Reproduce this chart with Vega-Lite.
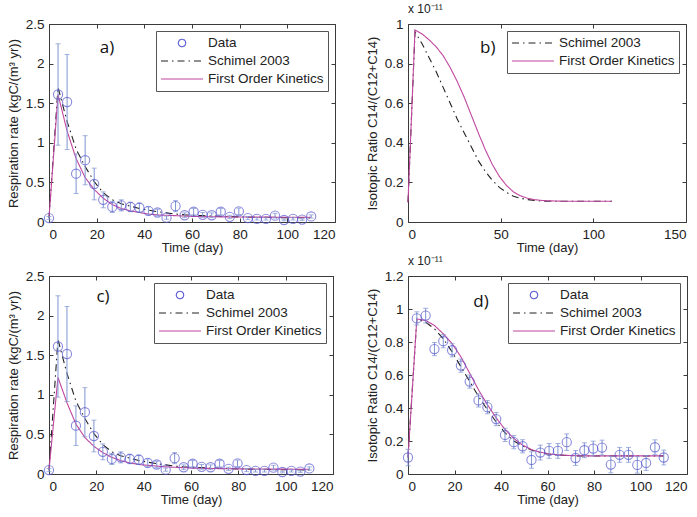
{
  "$schema": "https://vega.github.io/schema/vega-lite/v6.json",
  "padding": {"left": 6, "top": 2, "right": 2, "bottom": 2},
  "background": "white",
  "config": {
    "font": "Liberation Sans",
    "view": {"stroke": "#3a3a3a", "strokeWidth": 1},
    "axis": {
      "grid": false,
      "domain": false,
      "tickSize": -4,
      "tickColor": "#3a3a3a",
      "labelFontSize": 13.5,
      "labelColor": "#222",
      "labelPadding": 9,
      "labelOverlap": false,
      "titleFontSize": 13,
      "titleFontWeight": "normal",
      "titleColor": "#222",
      "format": "~r"
    },
    "legend": {
      "orient": "top-right",
      "offset": 7,
      "strokeColor": "#555",
      "fillColor": "white",
      "padding": 4,
      "labelFontSize": 13.5,
      "labelColor": "#222",
      "rowPadding": 2,
      "clipHeight": 16,
      "labelOffset": 4
    },
    "title": {"fontSize": 12, "fontWeight": "normal", "color": "#222", "anchor": "start", "frame": "group", "offset": 1}
  },
  "datasets": {
    "resp": [
      {"t": 0, "v": 0.05, "err": 0.02},
      {"t": 3.79, "v": 1.61, "err": 0.64},
      {"t": 7.59, "v": 1.515, "err": 0.6},
      {"t": 11.38, "v": 0.61, "err": 0.25},
      {"t": 15.17, "v": 0.78, "err": 0.31},
      {"t": 18.97, "v": 0.48, "err": 0.2},
      {"t": 22.76, "v": 0.28, "err": 0.1},
      {"t": 26.55, "v": 0.19, "err": 0.07},
      {"t": 30.34, "v": 0.21, "err": 0.07},
      {"t": 34.14, "v": 0.19, "err": 0.06},
      {"t": 37.93, "v": 0.18, "err": 0.06},
      {"t": 41.72, "v": 0.14, "err": 0.05},
      {"t": 45.52, "v": 0.12, "err": 0.04},
      {"t": 49.31, "v": 0.055, "err": 0.02},
      {"t": 53.1, "v": 0.2, "err": 0.07},
      {"t": 56.9, "v": 0.085, "err": 0.03},
      {"t": 60.69, "v": 0.13, "err": 0.04},
      {"t": 64.48, "v": 0.09, "err": 0.03},
      {"t": 68.28, "v": 0.085, "err": 0.03},
      {"t": 72.07, "v": 0.13, "err": 0.04},
      {"t": 75.86, "v": 0.065, "err": 0.02},
      {"t": 79.66, "v": 0.135, "err": 0.04},
      {"t": 83.45, "v": 0.05, "err": 0.02},
      {"t": 87.24, "v": 0.04, "err": 0.015},
      {"t": 91.03, "v": 0.04, "err": 0.015},
      {"t": 94.83, "v": 0.08, "err": 0.03},
      {"t": 98.62, "v": 0.025, "err": 0.01},
      {"t": 102.41, "v": 0.04, "err": 0.015},
      {"t": 106.21, "v": 0.03, "err": 0.01},
      {"t": 110, "v": 0.07, "err": 0.02}
    ],
    "iso": [
      {"t": 0, "v": 0.1, "err": 0.05},
      {"t": 3.79, "v": 0.943, "err": 0.04},
      {"t": 7.59, "v": 0.96, "err": 0.045},
      {"t": 11.38, "v": 0.757, "err": 0.04},
      {"t": 15.17, "v": 0.805, "err": 0.04},
      {"t": 18.97, "v": 0.75, "err": 0.04},
      {"t": 22.76, "v": 0.657, "err": 0.04},
      {"t": 26.55, "v": 0.56, "err": 0.04},
      {"t": 30.34, "v": 0.446, "err": 0.04},
      {"t": 34.14, "v": 0.405, "err": 0.04},
      {"t": 37.93, "v": 0.333, "err": 0.04},
      {"t": 41.72, "v": 0.237, "err": 0.04},
      {"t": 45.52, "v": 0.193, "err": 0.04},
      {"t": 49.31, "v": 0.168, "err": 0.04},
      {"t": 53.1, "v": 0.085, "err": 0.05},
      {"t": 56.9, "v": 0.13, "err": 0.045},
      {"t": 60.69, "v": 0.14, "err": 0.045},
      {"t": 64.48, "v": 0.14, "err": 0.045},
      {"t": 68.28, "v": 0.193, "err": 0.05},
      {"t": 72.07, "v": 0.097, "err": 0.045},
      {"t": 75.86, "v": 0.144, "err": 0.045},
      {"t": 79.66, "v": 0.154, "err": 0.045},
      {"t": 83.45, "v": 0.16, "err": 0.045},
      {"t": 87.24, "v": 0.057, "err": 0.05},
      {"t": 91.03, "v": 0.116, "err": 0.045},
      {"t": 94.83, "v": 0.116, "err": 0.045},
      {"t": 98.62, "v": 0.055, "err": 0.05},
      {"t": 102.41, "v": 0.067, "err": 0.045},
      {"t": 106.21, "v": 0.162, "err": 0.045},
      {"t": 110, "v": 0.1, "err": 0.045}
    ],
    "respModelA": [
      {"t": 0, "series": "Schimel 2003", "v": 0.05},
      {"t": 3.79, "series": "Schimel 2003", "v": 1.7},
      {"t": 7.59, "series": "Schimel 2003", "v": 1.27},
      {"t": 11.38, "series": "Schimel 2003", "v": 0.92},
      {"t": 15.17, "series": "Schimel 2003", "v": 0.7},
      {"t": 18.97, "series": "Schimel 2003", "v": 0.51},
      {"t": 22.76, "series": "Schimel 2003", "v": 0.37},
      {"t": 26.55, "series": "Schimel 2003", "v": 0.28},
      {"t": 30.34, "series": "Schimel 2003", "v": 0.23},
      {"t": 34.14, "series": "Schimel 2003", "v": 0.2},
      {"t": 37.93, "series": "Schimel 2003", "v": 0.17},
      {"t": 41.72, "series": "Schimel 2003", "v": 0.15},
      {"t": 45.52, "series": "Schimel 2003", "v": 0.13},
      {"t": 49.31, "series": "Schimel 2003", "v": 0.115},
      {"t": 53.1, "series": "Schimel 2003", "v": 0.1},
      {"t": 56.9, "series": "Schimel 2003", "v": 0.09},
      {"t": 60.69, "series": "Schimel 2003", "v": 0.085},
      {"t": 64.48, "series": "Schimel 2003", "v": 0.08},
      {"t": 68.28, "series": "Schimel 2003", "v": 0.075},
      {"t": 72.07, "series": "Schimel 2003", "v": 0.072},
      {"t": 75.86, "series": "Schimel 2003", "v": 0.068},
      {"t": 79.66, "series": "Schimel 2003", "v": 0.065},
      {"t": 83.45, "series": "Schimel 2003", "v": 0.062},
      {"t": 87.24, "series": "Schimel 2003", "v": 0.06},
      {"t": 91.03, "series": "Schimel 2003", "v": 0.058},
      {"t": 94.83, "series": "Schimel 2003", "v": 0.056},
      {"t": 98.62, "series": "Schimel 2003", "v": 0.055},
      {"t": 102.41, "series": "Schimel 2003", "v": 0.054},
      {"t": 106.21, "series": "Schimel 2003", "v": 0.053},
      {"t": 110, "series": "Schimel 2003", "v": 0.052},
      {"t": 0, "series": "First Order Kinetics", "v": 0.05},
      {"t": 3.79, "series": "First Order Kinetics", "v": 1.61},
      {"t": 7.59, "series": "First Order Kinetics", "v": 1.15},
      {"t": 11.38, "series": "First Order Kinetics", "v": 0.8},
      {"t": 15.17, "series": "First Order Kinetics", "v": 0.56},
      {"t": 18.97, "series": "First Order Kinetics", "v": 0.41},
      {"t": 22.76, "series": "First Order Kinetics", "v": 0.3},
      {"t": 26.55, "series": "First Order Kinetics", "v": 0.22},
      {"t": 30.34, "series": "First Order Kinetics", "v": 0.17},
      {"t": 34.14, "series": "First Order Kinetics", "v": 0.14},
      {"t": 37.93, "series": "First Order Kinetics", "v": 0.12},
      {"t": 41.72, "series": "First Order Kinetics", "v": 0.1},
      {"t": 45.52, "series": "First Order Kinetics", "v": 0.09},
      {"t": 49.31, "series": "First Order Kinetics", "v": 0.085},
      {"t": 53.1, "series": "First Order Kinetics", "v": 0.08},
      {"t": 56.9, "series": "First Order Kinetics", "v": 0.075},
      {"t": 60.69, "series": "First Order Kinetics", "v": 0.07},
      {"t": 64.48, "series": "First Order Kinetics", "v": 0.068},
      {"t": 68.28, "series": "First Order Kinetics", "v": 0.066},
      {"t": 72.07, "series": "First Order Kinetics", "v": 0.065},
      {"t": 75.86, "series": "First Order Kinetics", "v": 0.064},
      {"t": 79.66, "series": "First Order Kinetics", "v": 0.063},
      {"t": 83.45, "series": "First Order Kinetics", "v": 0.062},
      {"t": 87.24, "series": "First Order Kinetics", "v": 0.062},
      {"t": 91.03, "series": "First Order Kinetics", "v": 0.061},
      {"t": 94.83, "series": "First Order Kinetics", "v": 0.061},
      {"t": 98.62, "series": "First Order Kinetics", "v": 0.06},
      {"t": 102.41, "series": "First Order Kinetics", "v": 0.06},
      {"t": 106.21, "series": "First Order Kinetics", "v": 0.06},
      {"t": 110, "series": "First Order Kinetics", "v": 0.06}
    ],
    "respModelC": [
      {"t": 0, "series": "Schimel 2003", "v": 0.05},
      {"t": 3.79, "series": "Schimel 2003", "v": 1.7},
      {"t": 7.59, "series": "Schimel 2003", "v": 1.27},
      {"t": 11.38, "series": "Schimel 2003", "v": 0.92},
      {"t": 15.17, "series": "Schimel 2003", "v": 0.7},
      {"t": 18.97, "series": "Schimel 2003", "v": 0.51},
      {"t": 22.76, "series": "Schimel 2003", "v": 0.37},
      {"t": 26.55, "series": "Schimel 2003", "v": 0.28},
      {"t": 30.34, "series": "Schimel 2003", "v": 0.23},
      {"t": 34.14, "series": "Schimel 2003", "v": 0.2},
      {"t": 37.93, "series": "Schimel 2003", "v": 0.17},
      {"t": 41.72, "series": "Schimel 2003", "v": 0.15},
      {"t": 45.52, "series": "Schimel 2003", "v": 0.13},
      {"t": 49.31, "series": "Schimel 2003", "v": 0.115},
      {"t": 53.1, "series": "Schimel 2003", "v": 0.1},
      {"t": 56.9, "series": "Schimel 2003", "v": 0.09},
      {"t": 60.69, "series": "Schimel 2003", "v": 0.085},
      {"t": 64.48, "series": "Schimel 2003", "v": 0.08},
      {"t": 68.28, "series": "Schimel 2003", "v": 0.075},
      {"t": 72.07, "series": "Schimel 2003", "v": 0.072},
      {"t": 75.86, "series": "Schimel 2003", "v": 0.068},
      {"t": 79.66, "series": "Schimel 2003", "v": 0.065},
      {"t": 83.45, "series": "Schimel 2003", "v": 0.062},
      {"t": 87.24, "series": "Schimel 2003", "v": 0.06},
      {"t": 91.03, "series": "Schimel 2003", "v": 0.058},
      {"t": 94.83, "series": "Schimel 2003", "v": 0.056},
      {"t": 98.62, "series": "Schimel 2003", "v": 0.055},
      {"t": 102.41, "series": "Schimel 2003", "v": 0.054},
      {"t": 106.21, "series": "Schimel 2003", "v": 0.053},
      {"t": 110, "series": "Schimel 2003", "v": 0.052},
      {"t": 0, "series": "First Order Kinetics", "v": 0.05},
      {"t": 3.79, "series": "First Order Kinetics", "v": 1.22},
      {"t": 7.59, "series": "First Order Kinetics", "v": 0.9},
      {"t": 11.38, "series": "First Order Kinetics", "v": 0.63},
      {"t": 15.17, "series": "First Order Kinetics", "v": 0.46},
      {"t": 18.97, "series": "First Order Kinetics", "v": 0.35},
      {"t": 22.76, "series": "First Order Kinetics", "v": 0.27},
      {"t": 26.55, "series": "First Order Kinetics", "v": 0.21},
      {"t": 30.34, "series": "First Order Kinetics", "v": 0.17},
      {"t": 34.14, "series": "First Order Kinetics", "v": 0.14},
      {"t": 37.93, "series": "First Order Kinetics", "v": 0.12},
      {"t": 41.72, "series": "First Order Kinetics", "v": 0.11},
      {"t": 45.52, "series": "First Order Kinetics", "v": 0.1},
      {"t": 49.31, "series": "First Order Kinetics", "v": 0.09},
      {"t": 53.1, "series": "First Order Kinetics", "v": 0.085},
      {"t": 56.9, "series": "First Order Kinetics", "v": 0.08},
      {"t": 60.69, "series": "First Order Kinetics", "v": 0.075},
      {"t": 64.48, "series": "First Order Kinetics", "v": 0.072},
      {"t": 68.28, "series": "First Order Kinetics", "v": 0.07},
      {"t": 72.07, "series": "First Order Kinetics", "v": 0.068},
      {"t": 75.86, "series": "First Order Kinetics", "v": 0.066},
      {"t": 79.66, "series": "First Order Kinetics", "v": 0.065},
      {"t": 83.45, "series": "First Order Kinetics", "v": 0.064},
      {"t": 87.24, "series": "First Order Kinetics", "v": 0.063},
      {"t": 91.03, "series": "First Order Kinetics", "v": 0.062},
      {"t": 94.83, "series": "First Order Kinetics", "v": 0.062},
      {"t": 98.62, "series": "First Order Kinetics", "v": 0.061},
      {"t": 102.41, "series": "First Order Kinetics", "v": 0.061},
      {"t": 106.21, "series": "First Order Kinetics", "v": 0.06},
      {"t": 110, "series": "First Order Kinetics", "v": 0.06}
    ],
    "isoModelB": [
      {"t": 0, "series": "Schimel 2003", "v": 0.1},
      {"t": 3.79, "series": "Schimel 2003", "v": 0.96},
      {"t": 7.59, "series": "Schimel 2003", "v": 0.9},
      {"t": 11.38, "series": "Schimel 2003", "v": 0.83},
      {"t": 15.17, "series": "Schimel 2003", "v": 0.76},
      {"t": 18.97, "series": "Schimel 2003", "v": 0.68},
      {"t": 22.76, "series": "Schimel 2003", "v": 0.6},
      {"t": 26.55, "series": "Schimel 2003", "v": 0.52},
      {"t": 30.34, "series": "Schimel 2003", "v": 0.45},
      {"t": 34.14, "series": "Schimel 2003", "v": 0.38},
      {"t": 37.93, "series": "Schimel 2003", "v": 0.31},
      {"t": 41.72, "series": "Schimel 2003", "v": 0.255},
      {"t": 45.52, "series": "Schimel 2003", "v": 0.21},
      {"t": 49.31, "series": "Schimel 2003", "v": 0.175},
      {"t": 53.1, "series": "Schimel 2003", "v": 0.15},
      {"t": 56.9, "series": "Schimel 2003", "v": 0.13},
      {"t": 60.69, "series": "Schimel 2003", "v": 0.12},
      {"t": 64.48, "series": "Schimel 2003", "v": 0.113},
      {"t": 68.28, "series": "Schimel 2003", "v": 0.109},
      {"t": 72.07, "series": "Schimel 2003", "v": 0.106},
      {"t": 75.86, "series": "Schimel 2003", "v": 0.105},
      {"t": 79.66, "series": "Schimel 2003", "v": 0.105},
      {"t": 83.45, "series": "Schimel 2003", "v": 0.105},
      {"t": 87.24, "series": "Schimel 2003", "v": 0.105},
      {"t": 91.03, "series": "Schimel 2003", "v": 0.105},
      {"t": 94.83, "series": "Schimel 2003", "v": 0.105},
      {"t": 98.62, "series": "Schimel 2003", "v": 0.105},
      {"t": 102.41, "series": "Schimel 2003", "v": 0.105},
      {"t": 106.21, "series": "Schimel 2003", "v": 0.105},
      {"t": 110, "series": "Schimel 2003", "v": 0.105},
      {"t": 0, "series": "First Order Kinetics", "v": 0.1},
      {"t": 3.79, "series": "First Order Kinetics", "v": 0.97},
      {"t": 7.59, "series": "First Order Kinetics", "v": 0.95},
      {"t": 11.38, "series": "First Order Kinetics", "v": 0.92},
      {"t": 15.17, "series": "First Order Kinetics", "v": 0.885},
      {"t": 18.97, "series": "First Order Kinetics", "v": 0.84},
      {"t": 22.76, "series": "First Order Kinetics", "v": 0.78},
      {"t": 26.55, "series": "First Order Kinetics", "v": 0.71},
      {"t": 30.34, "series": "First Order Kinetics", "v": 0.63},
      {"t": 34.14, "series": "First Order Kinetics", "v": 0.54},
      {"t": 37.93, "series": "First Order Kinetics", "v": 0.45},
      {"t": 41.72, "series": "First Order Kinetics", "v": 0.365},
      {"t": 45.52, "series": "First Order Kinetics", "v": 0.29},
      {"t": 49.31, "series": "First Order Kinetics", "v": 0.23},
      {"t": 53.1, "series": "First Order Kinetics", "v": 0.185},
      {"t": 56.9, "series": "First Order Kinetics", "v": 0.152},
      {"t": 60.69, "series": "First Order Kinetics", "v": 0.132},
      {"t": 64.48, "series": "First Order Kinetics", "v": 0.12},
      {"t": 68.28, "series": "First Order Kinetics", "v": 0.113},
      {"t": 72.07, "series": "First Order Kinetics", "v": 0.109},
      {"t": 75.86, "series": "First Order Kinetics", "v": 0.107},
      {"t": 79.66, "series": "First Order Kinetics", "v": 0.106},
      {"t": 83.45, "series": "First Order Kinetics", "v": 0.105},
      {"t": 87.24, "series": "First Order Kinetics", "v": 0.105},
      {"t": 91.03, "series": "First Order Kinetics", "v": 0.105},
      {"t": 94.83, "series": "First Order Kinetics", "v": 0.105},
      {"t": 98.62, "series": "First Order Kinetics", "v": 0.105},
      {"t": 102.41, "series": "First Order Kinetics", "v": 0.105},
      {"t": 106.21, "series": "First Order Kinetics", "v": 0.105},
      {"t": 110, "series": "First Order Kinetics", "v": 0.105}
    ],
    "isoModelD": [
      {"t": 0, "series": "Schimel 2003", "v": 0.1},
      {"t": 3.79, "series": "Schimel 2003", "v": 0.94},
      {"t": 7.59, "series": "Schimel 2003", "v": 0.92},
      {"t": 11.38, "series": "Schimel 2003", "v": 0.88},
      {"t": 15.17, "series": "Schimel 2003", "v": 0.82},
      {"t": 18.97, "series": "Schimel 2003", "v": 0.74},
      {"t": 22.76, "series": "Schimel 2003", "v": 0.65},
      {"t": 26.55, "series": "Schimel 2003", "v": 0.56},
      {"t": 30.34, "series": "Schimel 2003", "v": 0.47},
      {"t": 34.14, "series": "Schimel 2003", "v": 0.39},
      {"t": 37.93, "series": "Schimel 2003", "v": 0.315},
      {"t": 41.72, "series": "Schimel 2003", "v": 0.25},
      {"t": 45.52, "series": "Schimel 2003", "v": 0.2},
      {"t": 49.31, "series": "Schimel 2003", "v": 0.17},
      {"t": 53.1, "series": "Schimel 2003", "v": 0.145},
      {"t": 56.9, "series": "Schimel 2003", "v": 0.13},
      {"t": 60.69, "series": "Schimel 2003", "v": 0.12},
      {"t": 64.48, "series": "Schimel 2003", "v": 0.115},
      {"t": 68.28, "series": "Schimel 2003", "v": 0.112},
      {"t": 72.07, "series": "Schimel 2003", "v": 0.11},
      {"t": 75.86, "series": "Schimel 2003", "v": 0.11},
      {"t": 79.66, "series": "Schimel 2003", "v": 0.11},
      {"t": 83.45, "series": "Schimel 2003", "v": 0.11},
      {"t": 87.24, "series": "Schimel 2003", "v": 0.11},
      {"t": 91.03, "series": "Schimel 2003", "v": 0.11},
      {"t": 94.83, "series": "Schimel 2003", "v": 0.11},
      {"t": 98.62, "series": "Schimel 2003", "v": 0.11},
      {"t": 102.41, "series": "Schimel 2003", "v": 0.11},
      {"t": 106.21, "series": "Schimel 2003", "v": 0.11},
      {"t": 110, "series": "Schimel 2003", "v": 0.11},
      {"t": 0, "series": "First Order Kinetics", "v": 0.1},
      {"t": 3.79, "series": "First Order Kinetics", "v": 0.94},
      {"t": 7.59, "series": "First Order Kinetics", "v": 0.93},
      {"t": 11.38, "series": "First Order Kinetics", "v": 0.9},
      {"t": 15.17, "series": "First Order Kinetics", "v": 0.85},
      {"t": 18.97, "series": "First Order Kinetics", "v": 0.79},
      {"t": 22.76, "series": "First Order Kinetics", "v": 0.71},
      {"t": 26.55, "series": "First Order Kinetics", "v": 0.61},
      {"t": 30.34, "series": "First Order Kinetics", "v": 0.51},
      {"t": 34.14, "series": "First Order Kinetics", "v": 0.42},
      {"t": 37.93, "series": "First Order Kinetics", "v": 0.34},
      {"t": 41.72, "series": "First Order Kinetics", "v": 0.27},
      {"t": 45.52, "series": "First Order Kinetics", "v": 0.215},
      {"t": 49.31, "series": "First Order Kinetics", "v": 0.175},
      {"t": 53.1, "series": "First Order Kinetics", "v": 0.148},
      {"t": 56.9, "series": "First Order Kinetics", "v": 0.132},
      {"t": 60.69, "series": "First Order Kinetics", "v": 0.122},
      {"t": 64.48, "series": "First Order Kinetics", "v": 0.116},
      {"t": 68.28, "series": "First Order Kinetics", "v": 0.113},
      {"t": 72.07, "series": "First Order Kinetics", "v": 0.111},
      {"t": 75.86, "series": "First Order Kinetics", "v": 0.11},
      {"t": 79.66, "series": "First Order Kinetics", "v": 0.11},
      {"t": 83.45, "series": "First Order Kinetics", "v": 0.11},
      {"t": 87.24, "series": "First Order Kinetics", "v": 0.11},
      {"t": 91.03, "series": "First Order Kinetics", "v": 0.11},
      {"t": 94.83, "series": "First Order Kinetics", "v": 0.11},
      {"t": 98.62, "series": "First Order Kinetics", "v": 0.11},
      {"t": 102.41, "series": "First Order Kinetics", "v": 0.11},
      {"t": 106.21, "series": "First Order Kinetics", "v": 0.11},
      {"t": 110, "series": "First Order Kinetics", "v": 0.11}
    ]
  },
  "columns": 2,
  "spacing": {"row": -1, "column": 29},
  "resolve": {
    "scale": {"color": "independent", "shape": "independent", "strokeDash": "independent"},
    "legend": {"color": "independent", "shape": "independent", "strokeDash": "independent"}
  },
  "concat": [
    {
      "width": 286,
      "height": 198,
      "resolve": {"axis": {"x": "independent", "y": "independent"}},
      "layer": [
        {
          "data": {"name": "respModelA"},
          "mark": {"type": "line", "strokeWidth": 1.1},
          "encoding": {
            "x": {"field": "t", "type": "quantitative", "title": "Time (day)", "scale": {"domain": [0, 120], "nice": false}, "axis": {"values": [0, 20, 40, 60, 80, 100, 120], "titlePadding": 1, "labelOverlap": false}},
            "y": {"field": "v", "type": "quantitative", "title": "Respiration rate (kgC/(m³ yr))", "scale": {"domain": [0, 2.5], "nice": false}, "axis": {"values": [0, 0.5, 1, 1.5, 2, 2.5], "titlePadding": 5, "labelOverlap": false}},
            "color": {"field": "series", "type": "nominal", "title": null, "scale": {"domain": ["Data", "Schimel 2003", "First Order Kinetics"], "range": ["#5a5ad0", "#222222", "#c0479f"]},
              "legend": {"encode": {"symbols": {"update": {"size": {"signal": "datum.value === 'Data' ? 55 : 1760"}, "fill": {"value": "transparent"}, "strokeWidth": {"value": 1.1}}}}}},
            "strokeDash": {"field": "series", "type": "nominal", "title": null, "scale": {"domain": ["Data", "Schimel 2003", "First Order Kinetics"], "range": [[1, 0], [7, 4, 1.5, 4], [1, 0]]}}
          }
        },
        {
          "data": {"name": "resp"},
          "mark": {"type": "errorbar", "ticks": true, "color": "#7f94d2"},
          "encoding": {
            "x": {"field": "t", "type": "quantitative", "axis": null},
            "y": {"field": "v", "type": "quantitative", "axis": null},
            "yError": {"field": "err"}
          }
        },
        {
          "data": {"name": "resp"},
          "transform": [{"calculate": "'Data'", "as": "series"}],
          "mark": {"type": "point", "filled": false, "size": 85, "strokeWidth": 1.1},
          "encoding": {
            "x": {"field": "t", "type": "quantitative", "axis": null},
            "y": {"field": "v", "type": "quantitative", "axis": null},
            "color": {"field": "series", "type": "nominal", "title": null},
            "shape": {"field": "series", "type": "nominal", "title": null, "scale": {"domain": ["Data", "Schimel 2003", "First Order Kinetics"], "range": ["circle", "stroke", "stroke"]}}
          }
        },
        {
          "data": {"values": [{"label": "a)"}]},
          "mark": {"type": "text", "font": "Open Sans", "fontSize": 17, "color": "#111"},
          "encoding": {
            "x": {"datum": 24.3, "type": "quantitative", "axis": {"orient": "top", "labels": false, "title": null, "values": [0, 20, 40, 60, 80, 100, 120]}},
            "y": {"datum": 2.2, "type": "quantitative", "axis": {"orient": "right", "labels": false, "title": null, "values": [0, 0.5, 1, 1.5, 2, 2.5]}},
            "text": {"field": "label"}
          }
        }
      ]
    },
    {
      "width": 278,
      "height": 198,
      "title": "x 10⁻¹¹",
      "resolve": {"axis": {"x": "independent", "y": "independent"}},
      "layer": [
        {
          "data": {"name": "isoModelB"},
          "mark": {"type": "line", "strokeWidth": 1.1},
          "encoding": {
            "x": {"field": "t", "type": "quantitative", "title": "Time (day)", "scale": {"domain": [0, 150], "nice": false}, "axis": {"values": [0, 50, 100, 150], "titlePadding": 1, "labelOverlap": false}},
            "y": {"field": "v", "type": "quantitative", "title": "Isotopic Ratio C14/(C12+C14)", "scale": {"domain": [0, 1], "nice": false}, "axis": {"values": [0, 0.2, 0.4, 0.6, 0.8, 1], "titlePadding": 5, "labelOverlap": false}},
            "color": {"field": "series", "type": "nominal", "title": null, "scale": {"domain": ["Schimel 2003", "First Order Kinetics"], "range": ["#222222", "#c0479f"]},
              "legend": {"symbolType": "stroke", "symbolSize": 1760, "symbolStrokeWidth": 1.1}},
            "strokeDash": {"field": "series", "type": "nominal", "title": null, "scale": {"domain": ["Schimel 2003", "First Order Kinetics"], "range": [[7, 4, 1.5, 4], [1, 0]]}}
          }
        },
        {
          "data": {"values": [{"label": "b)"}]},
          "mark": {"type": "text", "font": "Open Sans", "fontSize": 17, "color": "#111"},
          "encoding": {
            "x": {"datum": 43, "type": "quantitative", "axis": {"orient": "top", "labels": false, "title": null, "values": [0, 50, 100, 150]}},
            "y": {"datum": 0.88, "type": "quantitative", "axis": {"orient": "right", "labels": false, "title": null, "values": [0, 0.2, 0.4, 0.6, 0.8, 1]}},
            "text": {"field": "label"}
          }
        }
      ]
    },
    {
      "width": 284,
      "height": 198,
      "resolve": {"axis": {"x": "independent", "y": "independent"}},
      "layer": [
        {
          "data": {"name": "respModelC"},
          "mark": {"type": "line", "strokeWidth": 1.1},
          "encoding": {
            "x": {"field": "t", "type": "quantitative", "title": "Time (day)", "scale": {"domain": [0, 120], "nice": false}, "axis": {"values": [0, 20, 40, 60, 80, 100, 120], "titlePadding": 1, "labelOverlap": false}},
            "y": {"field": "v", "type": "quantitative", "title": "Respiration rate (kgC/(m³ yr))", "scale": {"domain": [0, 2.5], "nice": false}, "axis": {"values": [0, 0.5, 1, 1.5, 2, 2.5], "titlePadding": 5, "labelOverlap": false}},
            "color": {"field": "series", "type": "nominal", "title": null, "scale": {"domain": ["Data", "Schimel 2003", "First Order Kinetics"], "range": ["#5a5ad0", "#222222", "#c0479f"]},
              "legend": {"encode": {"symbols": {"update": {"size": {"signal": "datum.value === 'Data' ? 55 : 1760"}, "fill": {"value": "transparent"}, "strokeWidth": {"value": 1.1}}}}}},
            "strokeDash": {"field": "series", "type": "nominal", "title": null, "scale": {"domain": ["Data", "Schimel 2003", "First Order Kinetics"], "range": [[1, 0], [7, 4, 1.5, 4], [1, 0]]}}
          }
        },
        {
          "data": {"name": "resp"},
          "mark": {"type": "errorbar", "ticks": true, "color": "#7f94d2"},
          "encoding": {
            "x": {"field": "t", "type": "quantitative", "axis": null},
            "y": {"field": "v", "type": "quantitative", "axis": null},
            "yError": {"field": "err"}
          }
        },
        {
          "data": {"name": "resp"},
          "transform": [{"calculate": "'Data'", "as": "series"}],
          "mark": {"type": "point", "filled": false, "size": 85, "strokeWidth": 1.1},
          "encoding": {
            "x": {"field": "t", "type": "quantitative", "axis": null},
            "y": {"field": "v", "type": "quantitative", "axis": null},
            "color": {"field": "series", "type": "nominal", "title": null},
            "shape": {"field": "series", "type": "nominal", "title": null, "scale": {"domain": ["Data", "Schimel 2003", "First Order Kinetics"], "range": ["circle", "stroke", "stroke"]}}
          }
        },
        {
          "data": {"values": [{"label": "c)"}]},
          "mark": {"type": "text", "font": "Open Sans", "fontSize": 17, "color": "#111"},
          "encoding": {
            "x": {"datum": 22.8, "type": "quantitative", "axis": {"orient": "top", "labels": false, "title": null, "values": [0, 20, 40, 60, 80, 100, 120]}},
            "y": {"datum": 2.24, "type": "quantitative", "axis": {"orient": "right", "labels": false, "title": null, "values": [0, 0.5, 1, 1.5, 2, 2.5]}},
            "text": {"field": "label"}
          }
        }
      ]
    },
    {
      "width": 279,
      "height": 198,
      "title": "x 10⁻¹¹",
      "resolve": {"axis": {"x": "independent", "y": "independent"}},
      "layer": [
        {
          "data": {"name": "isoModelD"},
          "mark": {"type": "line", "strokeWidth": 1.1},
          "encoding": {
            "x": {"field": "t", "type": "quantitative", "title": "Time (day)", "scale": {"domain": [0, 120], "nice": false}, "axis": {"values": [0, 20, 40, 60, 80, 100, 120], "titlePadding": 1, "labelOverlap": false}},
            "y": {"field": "v", "type": "quantitative", "title": "Isotopic Ratio C14/(C12+C14)", "scale": {"domain": [0, 1.2], "nice": false}, "axis": {"values": [0, 0.2, 0.4, 0.6, 0.8, 1, 1.2], "titlePadding": 5, "labelOverlap": false}},
            "color": {"field": "series", "type": "nominal", "title": null, "scale": {"domain": ["Data", "Schimel 2003", "First Order Kinetics"], "range": ["#5a5ad0", "#222222", "#c0479f"]},
              "legend": {"encode": {"symbols": {"update": {"size": {"signal": "datum.value === 'Data' ? 55 : 1760"}, "fill": {"value": "transparent"}, "strokeWidth": {"value": 1.1}}}}}},
            "strokeDash": {"field": "series", "type": "nominal", "title": null, "scale": {"domain": ["Data", "Schimel 2003", "First Order Kinetics"], "range": [[1, 0], [7, 4, 1.5, 4], [1, 0]]}}
          }
        },
        {
          "data": {"name": "iso"},
          "mark": {"type": "errorbar", "ticks": true, "color": "#7f94d2"},
          "encoding": {
            "x": {"field": "t", "type": "quantitative", "axis": null},
            "y": {"field": "v", "type": "quantitative", "axis": null},
            "yError": {"field": "err"}
          }
        },
        {
          "data": {"name": "iso"},
          "transform": [{"calculate": "'Data'", "as": "series"}],
          "mark": {"type": "point", "filled": false, "size": 85, "strokeWidth": 1.1},
          "encoding": {
            "x": {"field": "t", "type": "quantitative", "axis": null},
            "y": {"field": "v", "type": "quantitative", "axis": null},
            "color": {"field": "series", "type": "nominal", "title": null},
            "shape": {"field": "series", "type": "nominal", "title": null, "scale": {"domain": ["Data", "Schimel 2003", "First Order Kinetics"], "range": ["circle", "stroke", "stroke"]}}
          }
        },
        {
          "data": {"values": [{"label": "d)"}]},
          "mark": {"type": "text", "font": "Open Sans", "fontSize": 17, "color": "#111"},
          "encoding": {
            "x": {"datum": 31.4, "type": "quantitative", "axis": {"orient": "top", "labels": false, "title": null, "values": [0, 20, 40, 60, 80, 100, 120]}},
            "y": {"datum": 1.04, "type": "quantitative", "axis": {"orient": "right", "labels": false, "title": null, "values": [0, 0.2, 0.4, 0.6, 0.8, 1, 1.2]}},
            "text": {"field": "label"}
          }
        }
      ]
    }
  ]
}
